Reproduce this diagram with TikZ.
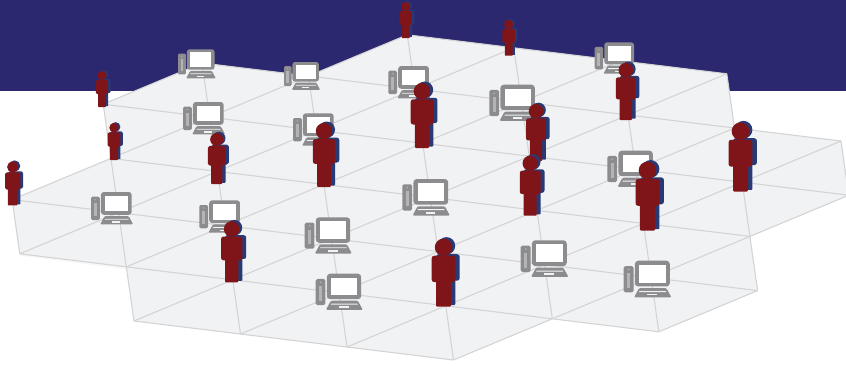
\documentclass[tikz,border=0pt]{standalone}
\definecolor{navy}{HTML}{2B2870}
\definecolor{panel}{HTML}{F1F2F4}
\definecolor{gridc}{HTML}{D4D4D5}
\definecolor{pcgray}{HTML}{8C8C8E}
\definecolor{pclight}{HTML}{B4B4B6}
\definecolor{bodyred}{HTML}{7F1519}
\definecolor{bodyblue}{HTML}{283A75}
\newcommand{\mansilhouette}[3]{%
  \fill[#2] (#3,-59.4) circle (8.7);
  \fill[#2,rounded corners=\cornerr pt] ({#1-11.8},-51) -- ({#1+11.8},-51) -- ({#1+11.8},-24.5) -- ({#1-11.8},-24.5) -- cycle;
  \fill[#2,rounded corners=0.4*\cornerr pt] ({#1-7.4},-30) -- ({#1+7.4},-30) -- ({#1+7.4},0) -- ({#1-7.4},0) -- cycle;
}
\tikzset{
  gridline/.style={draw=gridc,line width=1.1pt},
  person/.pic={
    \pgfmathsetmacro{\sc}{#1/68}
    \pgfmathsetmacro{\cornerr}{\sc*2.6}
    \begin{scope}[scale=\sc]
      \begin{scope}[yshift=1.5pt]
        \mansilhouette{4.4}{bodyblue}{3}
      \end{scope}
      \mansilhouette{0}{bodyred}{0}
    \end{scope}
  },
  computer/.pic={
    \pgfmathsetmacro{\sc}{#1/48}
    \begin{scope}[scale=\sc]
      \fill[pcgray,rounded corners=\sc*1.6pt] (0,5.4) rectangle (10,32);
      \fill[pclight] (3.3,12.5) rectangle (6.8,27.5);
      \fill[pclight] (5,8.8) circle (0.9);
      \fill[pcgray,rounded corners=\sc*3.4pt] (11.3,0) rectangle (46.5,26);
      \fill[white] (15.6,4) rectangle (42.4,22.2);
      \fill[pcgray,rounded corners=\sc*1.2pt] (15.5,27.6) -- (43,27.6) -- (48.2,37) -- (10.4,37) -- cycle;
      \fill[panel] (16,30.6) -- (42.5,30.6) -- (43,31.6) -- (15.5,31.6) -- cycle;
      \fill[panel] (23.8,33.4) rectangle (33.6,35);
    \end{scope}
  }
}
\begin{document}
\begin{tikzpicture}[x=1pt,y=-1pt]
\useasboundingbox (0,0) rectangle (846,365);
\fill[navy] (0,0) rectangle (846,91);
\foreach \i in {-1,...,7}{\foreach \j in {0,...,6}{
  \coordinate (p\i-\j) at ({134+\i*106.5-\j*7.7},{321+\i*13-\j*54.2});
}}
\coordinate (sa) at ([yshift=-1.8pt]p-1-1);
\coordinate (sb) at ([yshift=-2.5pt]p0-1);
\fill[panel!60!white] (p-1-1) -- (sa) -- (sb) -- (p0-1) -- cycle;
\fill[panel] (p0-0) -- (p3-0) -- (p4-1) -- (p5-1) -- (p6-2) -- (p6-3) -- (p7-4) -- (p7-5)
  -- (p6-5) -- (p6-6) -- (p3-6) -- (p2-5) -- (p1-5) -- (p0-4) -- (p0-3) -- (p-1-2) -- (p-1-1) -- (p0-1) -- cycle;
% rows
\foreach \j/\a/\b in {0/0/3,1/-1/5,2/-1/6,3/0/6,4/0/7,5/1/7,6/3/6}
  \draw[gridline] (p\a-\j) -- (p\b-\j);
% columns
\foreach \i/\a/\b in {-1/1/2,0/0/4,1/0/5,2/0/5,3/0/6,4/1/6,5/1/6,6/2/6,7/4/5}
  \draw[gridline] (p\i-\a) -- (p\i-\b);
% diagonals
\foreach \a/\b/\c/\d in {-1/2/3/6,-1/1/4/6,0/1/5/6,0/0/6/6,1/0/6/5,2/0/7/5,3/0/7/4,5/1/6/2,0/4/1/5}
  \draw[gridline] (p\a-\b) -- (p\c-\d);
% computers: left, top, overall width
\foreach \nm/\x/\y/\w in {a/178/49.3/37.7,b/284/62/36,c/388.3/66/42,d/183/102/42,e/293/113.3/42,
  f/489.3/84.7/47,g/594.7/42.3/40.6,h/607.3/150.7/47,i/91/192/42,j/199.3/200.3/42,
  k/304.7/217.3/47,l/315.7/273.7/47,m/402.3/179/47.4,n/520.7/240.3/47.6,o/623.7/260.7/47.6}
  \pic (pc\nm) at (\x,\y) {computer=\w};
% people: foot centre x, foot y, height
\foreach \nm/\x/\y/\h in {a/405.7/38/36,b/508.7/55.7/36,c/102/107/36,d/114/160/37,e/12.7/205.4/44,
  f/216.7/184/51,g/324/187/64,h/422/148/65,i/536/161/57,j/625.8/120/57,k/740.5/191.5/69,
  l/530.2/215.7/60,m/647.5/230.7/69,n/443.5/306.7/68,o/231.7/282.3/61}
  \pic (man\nm) at (\x,\y) {person=\h};
\end{tikzpicture}
\end{document}
